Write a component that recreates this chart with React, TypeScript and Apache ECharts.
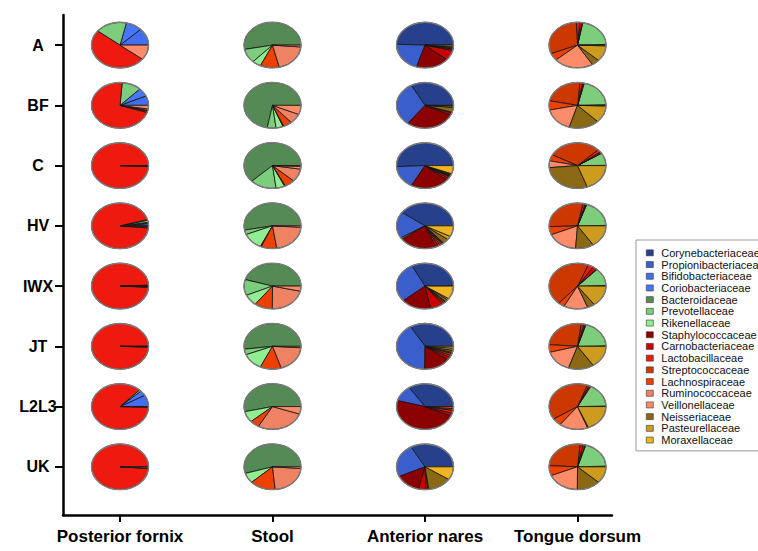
import React, { useEffect, useRef } from 'react';
import * as echarts from 'echarts';

const families = [
  'Corynebacteriaceae', 'Propionibacteriaceae', 'Bifidobacteriaceae', 'Coriobacteriaceae',
  'Bacteroidaceae', 'Prevotellaceae', 'Rikenellaceae', 'Staphylococcaceae', 'Carnobacteriaceae',
  'Lactobacillaceae', 'Streptococcaceae', 'Lachnospiraceae', 'Ruminococcaceae', 'Veillonellaceae',
  'Neisseriaceae', 'Pasteurellaceae', 'Moraxellaceae',
];
const familyColors = [
  '#27408B', '#3A5FCD', '#436EEE', '#4876FF', '#548B54', '#7CCD7C', '#90EE90', '#8B0000', '#CD0000',
  '#EE1A10', '#CD3700', '#EE4000', '#EE8262', '#FF8C69', '#8B6914', '#CD9B1D', '#EEB422',
];
const subjects = ['A', 'BF', 'C', 'HV', 'IWX', 'JT', 'L2L3', 'UK'];
const sites = ['Posterior fornix', 'Stool', 'Anterior nares', 'Tongue dorsum'];

// columns follow the legend order of families
const posteriorFornix = [
  [0, 0, 12.2, 9.2, 0, 18, 0, 0, 0, 50, 0, 0, 0, 10.6, 0, 0, 0],
  [0, 0, 6.8, 6, 0, 11, 0, 0, 0, 71.2, 1, 0.5, 1, 2.5, 0, 0, 0],
  [0, 0, 0, 0, 0, 0, 0, 0, 0, 99.5, 0.3, 0, 0, 0.2, 0, 0, 0],
  [0, 0.5, 1.2, 0.3, 0.5, 1.5, 0.5, 0, 0, 94, 0.8, 0.3, 0, 0.4, 0, 0, 0],
  [0, 0.2, 0.3, 0, 0, 0.2, 0, 0, 0, 98.5, 0.3, 0, 0.2, 0.3, 0, 0, 0],
  [0, 0, 0.3, 0, 0, 0, 0, 0, 0, 99.1, 0.3, 0, 0, 0.3, 0, 0, 0],
  [0, 0, 8.3, 3.6, 0, 1.1, 0, 0, 0, 86.5, 0.5, 0, 0, 0, 0, 0, 0],
  [0, 0, 0.3, 0, 0, 0, 0, 0, 0, 98.5, 0.4, 0, 0, 0.8, 0, 0, 0],
];
const stool = [
  [0, 0, 0, 0, 53, 10, 5, 0, 0, 0, 0, 10.8, 19.9, 1.3, 0, 0, 0],
  [0, 0, 0, 0, 72, 5, 4, 0, 0, 0, 0.5, 5, 7, 6.5, 0, 0, 0],
  [0, 0, 0, 0, 62, 15, 5, 0, 0, 0, 0.5, 5.8, 9.2, 2, 0, 0.5, 0],
  [0, 0, 0, 0, 53, 3.2, 11.8, 0, 0, 0, 0.5, 8.9, 21.6, 1, 0, 0, 0],
  [0, 0, 0, 0, 45.4, 11.2, 8, 0, 0, 0, 0, 10.3, 21.5, 3.6, 0, 0, 0],
  [0, 0, 0, 0, 52, 4, 12, 0, 0, 0, 0, 12, 19, 1, 0, 0, 0],
  [0, 0, 0, 0, 53.6, 0, 7.8, 0, 0, 0, 0, 5.4, 27.9, 5.3, 0, 0, 0],
  [0, 0, 0, 0, 54.7, 0, 7.2, 0, 0, 0, 0, 14.6, 22.3, 1.2, 0, 0, 0],
];
const anteriorNares = [
  [49.4, 20.8, 0, 0, 0, 0, 0, 18.9, 7.1, 1, 0.5, 0, 0, 0, 0.8, 0.6, 0.9],
  [33, 31.6, 0, 0, 0, 0, 0, 28.5, 1.5, 0.5, 0, 0, 0, 0, 3.5, 1, 0.4],
  [50.7, 16.3, 0, 0, 0, 0, 0, 22.1, 1.5, 1.2, 0.5, 0.4, 0.3, 0, 0.7, 0.5, 5.8],
  [40.1, 18.7, 0, 0, 1.2, 0, 0, 21.3, 1.5, 1.2, 1, 0.7, 0.3, 0.3, 3.5, 2.5, 7.7],
  [32.6, 28.5, 0, 0, 0, 0, 0, 17.1, 7.4, 1, 1, 0.5, 0, 0, 1.6, 1, 9.3],
  [33.5, 41.3, 0, 0, 0, 0, 0, 15.1, 2, 1.5, 1.5, 0.8, 0, 0, 1.5, 1.5, 1.3],
  [34.4, 11.4, 0, 0, 0, 0, 0, 47.5, 2, 2, 1.2, 1.5, 0, 0, 0, 0, 0],
  [33.2, 23.8, 0, 0, 0, 0, 0, 14.4, 4.2, 1, 0.5, 0, 0, 0, 13.6, 0, 9.3],
];
const tongueDorsum = [
  [0, 0, 0, 0, 0.5, 21.5, 0.3, 0, 1.5, 1.9, 30.3, 5.3, 0, 22.4, 4.5, 11.2, 0.5],
  [0, 0, 0, 0, 0.5, 20.7, 0.3, 0, 0.7, 1.5, 23.1, 6.5, 0, 17, 17.2, 12.1, 0.4],
  [0, 0, 0, 0, 0.2, 8.9, 0.1, 0, 1, 2, 30, 4.4, 0, 4.8, 29.1, 19.4, 0],
  [0, 0, 0, 0, 0.3, 19.4, 0.3, 0, 0.7, 1.3, 28.6, 5.8, 0, 17.5, 10.4, 15.7, 0],
  [0, 0, 0, 0, 0.4, 12.6, 0.4, 0, 2.5, 3, 44.7, 3.6, 0, 13.6, 4.2, 15, 0],
  [0, 0, 0, 0, 0.4, 19.8, 0.3, 0, 1, 1.5, 25.8, 5.4, 0, 15.7, 14.4, 15.7, 0],
  [0, 0, 0, 0, 0.4, 16.9, 0, 0, 1, 1.1, 39.7, 5.4, 0, 16.2, 0.5, 18.7, 0],
  [0, 0, 0, 0, 0.5, 19.8, 0.4, 0, 1.4, 1.5, 25.6, 7.1, 0, 18.6, 13.3, 11.8, 0],
];
const siteValues = [posteriorFornix, stool, anteriorNares, tongueDorsum];

const RX = 28.5;
const SY = 0.8;
const FONT = "'Liberation Sans', Arial, Helvetica, sans-serif";

function buildOption() {
  const perFamily: number[][][] = families.map(() => []);
  const centers: number[][] = [];
  siteValues.forEach((rows, si) => {
    rows.forEach((vals, ri) => {
      centers.push([si + 1, ri]);
      const total = vals.reduce((a, b) => a + b, 0);
      let acc = 0;
      vals.forEach((v, fi) => {
        if (v <= 0) return;
        const s = acc / total;
        acc += v;
        perFamily[fi].push([si + 1, ri, s, acc / total]);
      });
    });
  });

  const sliceSeries = families.map((name, fi) => ({
    type: 'custom',
    name,
    coordinateSystem: 'cartesian2d',
    itemStyle: { color: familyColors[fi] },
    encode: { x: 0, y: 1 },
    z: 2,
    data: perFamily[fi],
    renderItem: (params: any, api: any) => {
      const p = api.coord([api.value(0), api.value(1)]);
      const a0 = api.value(2) * Math.PI * 2;
      const a1 = api.value(3) * Math.PI * 2;
      return {
        type: 'group',
        x: p[0],
        y: p[1],
        scaleY: SY,
        children: [
          {
            type: 'sector',
            shape: { cx: 0, cy: 0, r: RX, r0: 0, startAngle: -a1, endAngle: -a0, clockwise: true },
            style: { fill: familyColors[fi], stroke: '#141414', lineWidth: 0.9 },
          },
        ],
      };
    },
  }));

  const outlineSeries = {
    type: 'custom',
    name: 'outline',
    coordinateSystem: 'cartesian2d',
    encode: { x: 0, y: 1 },
    z: 3,
    silent: true,
    data: centers,
    renderItem: (params: any, api: any) => {
      const p = api.coord([api.value(0), api.value(1)]);
      return {
        type: 'ellipse',
        shape: { cx: p[0], cy: p[1], rx: RX, ry: RX * SY },
        style: { fill: 'none', stroke: '#7c7c7c', lineWidth: 1.4 },
      };
    },
  };

  return {
    animation: false,
    backgroundColor: '#ffffff',
    grid: { left: 63, right: 146, top: 15, bottom: 36 },
    xAxis: {
      type: 'value',
      min: 0.626,
      max: 4.226,
      splitLine: { show: false },
      axisLine: { show: true, onZero: false, lineStyle: { color: '#000', width: 2.5 } },
      axisTick: { show: true, length: 7, customValues: [1, 2, 3, 4], lineStyle: { color: '#000', width: 2 } },
      axisLabel: {
        customValues: [1, 2, 3, 4],
        formatter: (v: number) => sites[Math.round(v) - 1],
        margin: 13,
        color: '#000',
        fontWeight: 'bold',
        fontSize: 17,
        fontFamily: FONT,
      },
    },
    yAxis: {
      type: 'value',
      inverse: true,
      min: -0.5,
      max: 7.8,
      splitLine: { show: false },
      axisLine: { show: true, onZero: false, lineStyle: { color: '#000', width: 2.5 } },
      axisTick: { show: true, length: 8, customValues: [0, 1, 2, 3, 4, 5, 6, 7], lineStyle: { color: '#000', width: 2 } },
      axisLabel: {
        customValues: [0, 1, 2, 3, 4, 5, 6, 7],
        formatter: (v: number) => subjects[Math.round(v)],
        align: 'center',
        margin: 25,
        color: '#000',
        fontWeight: 'bold',
        fontSize: 16,
        fontFamily: FONT,
      },
    },
    legend: {
      data: families,
      orient: 'vertical',
      left: 636,
      top: 240,
      icon: 'rect',
      itemWidth: 7,
      itemHeight: 6,
      itemGap: 0,
      padding: [7, 10, 5, 10],
      borderColor: '#999',
      borderWidth: 1,
      selectedMode: false,
      itemStyle: { borderColor: '#333', borderWidth: 0.6 },
      textStyle: { fontSize: 11, fontFamily: FONT, color: '#111', lineHeight: 11.7, padding: [0, 0, 0, 3] },
    },
    series: [...sliceSeries, outlineSeries],
  };
}

export default function App() {
  const ref = useRef<HTMLDivElement>(null);
  useEffect(() => {
    if (!ref.current) return;
    const chart = echarts.init(ref.current, undefined, { renderer: 'svg' });
    chart.setOption(buildOption() as any);
    return () => chart.dispose();
  }, []);
  return (
    <div
      ref={ref}
      style={{ position: 'fixed', left: 0, top: 0, width: 758, height: 551, background: '#fff' }}
    />
  );
}
